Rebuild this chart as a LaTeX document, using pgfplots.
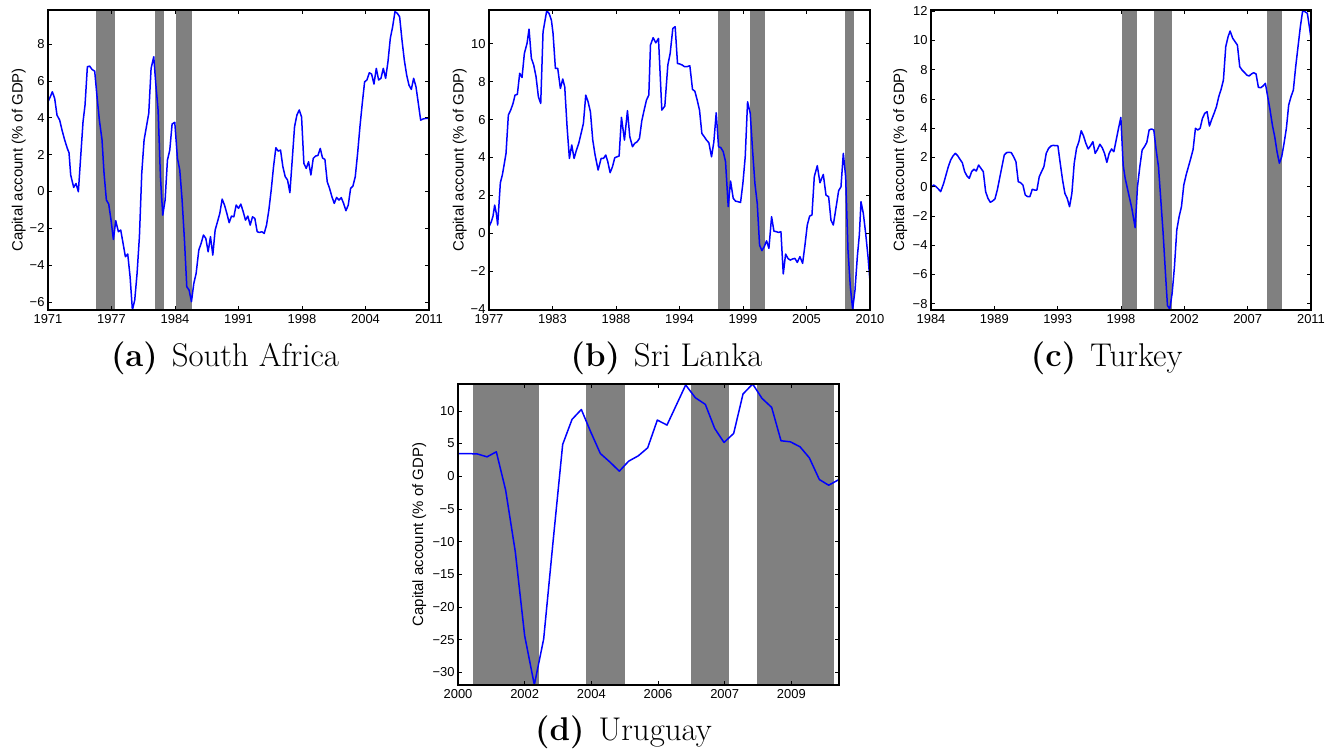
\documentclass[border=0pt]{standalone}
\usepackage{fontspec}
\usepackage{pgfplots}
\pgfplotsset{compat=1.18}
\newfontfamily\arial{Liberation Sans}
\definecolor{shade}{RGB}{128,128,128}
\pgfplotsset{
  myax/.style={
    scale only axis, width=381bp, height=300bp,
    axis on top,
    axis line style={line width=1.1bp},
    tick style={black, line width=0.6bp},
    major tick length=4bp,
    tick align=inside,
    ticklabel style={font=\arial\fontsize{13}{16}\selectfont},
    xticklabel style={yshift=-1bp},
    ylabel={Capital account (\% of GDP)},
    label style={font=\arial\fontsize{15}{18}\selectfont},
    ylabel style={anchor=center, at={(axis description cs:-0.077,0.5)}},
    every axis plot/.append style={line join=round},
  },
  sh/.style={fill=shade, draw=none, forget plot},
  ln/.style={blue, line width=1.5bp},
}
\begin{document}
\begin{tikzpicture}
\path[use as bounding box] (0,0) rectangle (1343bp,750bp);
% ---------------- (a) South Africa
\begin{axis}[myax, at={(48bp,440bp)}, anchor=south west,
  xmin=145, xmax=1287, ymin=-6.44, ymax=9.85,
  xtick={145,335.3,525.7,716,906.3,1096.7,1287},
  xticklabels={1971,1977,1984,1991,1998,2004,2011},
  ytick={-6,-4,-2,0,2,4,6,8},
  yticklabels={−6,−4,−2,0,2,4,6,8}]
\addplot[sh] coordinates {(288,-10) (347,-10) (347,20) (288,20)};
\addplot[sh] coordinates {(465,-10) (494,-10) (494,20) (465,20)};
\addplot[sh] coordinates {(528,-10) (578,-10) (578,20) (528,20)};
\addplot[ln] coordinates {
(145,4.87)(152,5.14)(158,5.41)(165,5.05)(172,4.14)(180,3.87)(187,3.33)(195,2.79)(203,2.33)(208,2.1)
(213,0.89)(222,0.22)(229,0.43)(236,-0.02)(243,1.88)(250,3.78)(256,4.69)(263,6.77)(270,6.8)(277,6.62)
(285,6.53)(292,5.14)(299,3.87)(307,2.79)(313,0.98)(320,-0.47)(327,-0.69)(334,-1.56)(341,-2.61)(348,-1.59)
(356,-2.19)(363,-2.1)(370,-2.82)(377,-3.55)(384,-3.4)(391,-4.63)(398,-6.44)(405,-5.9)(412,-4.45)(419,-2.46)
(426,0.98)(433,2.79)(440,3.51)(447,4.24)(454,6.68)(462,7.31)(468,5.86)(475,4.42)(482,0.8)(489,-1.29)
(496,-0.47)(503,1.7)(510,2.24)(517,3.66)(525,3.75)(533,1.79)(540,1.16)(547,-0.47)(554,-2.64)(561,-5.18)
(568,-5.36)(575,-5.99)(582,-5.0)(589,-4.45)(597,-3.19)(604,-2.82)(611,-2.37)(618,-2.55)(625,-3.28)(632,-2.46)
(639,-3.46)(646,-2.1)(653,-1.65)(660,-1.19)(667,-0.42)(674,-0.74)(681,-1.19)(688,-1.7)(695,-1.34)(702,-1.38)
(709,-0.74)(716,-0.92)(723,-0.69)(730,-1.1)(737,-1.56)(744,-1.34)(751,-1.83)(758,-1.38)(765,-1.47)(772,-2.19)
(779,-2.23)(786,-2.19)(793,-2.28)(800,-1.83)(807,-1.01)(814,0.07)(821,1.34)(828,2.37)(835,2.19)(842,2.24)
(849,1.34)(856,0.8)(863,0.62)(870,-0.07)(877,1.7)(884,3.51)(891,4.14)(898,4.42)(905,4.05)(912,1.52)
(919,1.25)(926,1.61)(933,0.89)(940,1.79)(947,1.92)(954,1.95)(961,2.33)(968,1.81)(975,1.74)(982,0.52)
(989,0.16)(996,-0.29)(1003,-0.65)(1010,-0.33)(1017,-0.47)(1024,-0.34)(1031,-0.65)(1038,-1.05)(1045,-0.74)(1052,0.16)
(1059,0.29)(1066,0.8)(1073,2.06)(1080,3.51)(1087,4.78)(1094,5.95)(1101,6.05)(1108,6.44)(1115,6.37)(1122,5.83)
(1129,6.68)(1136,6.05)(1143,6.14)(1150,6.68)(1157,6.14)(1164,7.04)(1171,8.31)(1178,8.94)(1185,9.76)(1192,9.67)
(1199,9.48)(1206,8.22)(1213,7.13)(1220,6.32)(1227,5.77)(1234,5.54)(1241,6.14)(1248,5.68)(1255,4.78)(1262,3.87)
(1269,3.93)(1276,3.96)(1287,3.96)};
\end{axis}
% ---------------- (b) Sri Lanka
\begin{axis}[myax, at={(489bp,440bp)}, anchor=south west,
  xmin=148, xmax=1290, ymin=-4.04, ymax=11.78,
  xtick={148,338.3,528.7,719,909.3,1099.7,1290},
  xticklabels={1977,1983,1988,1994,1999,2005,2010},
  ytick={-4,-2,0,2,4,6,8,10},
  yticklabels={−4,−2,0,2,4,6,8,10}]
\addplot[sh] coordinates {(835,-10) (870,-10) (870,20) (835,20)};
\addplot[sh] coordinates {(930,-10) (975,-10) (975,20) (930,20)};
\addplot[sh] coordinates {(1215,-10) (1242,-10) (1242,20) (1215,20)};
\addplot[ln] coordinates {
(148,0.35)(155,0.62)(160,0.91)(165,1.49)(170,1.05)(174,0.44)(182,2.67)(188,3.08)(194,3.69)(199,4.22)
(206,6.24)(213,6.5)(220,6.85)(226,7.29)(233,7.33)(240,8.44)(247,8.22)(254,9.49)(262,10.02)(268,10.77)
(275,9.23)(282,8.88)(289,8.26)(296,7.21)(303,6.85)(310,10.63)(317,11.34)(321,11.74)(328,11.6)(335,11.25)
(340,10.54)(347,8.7)(354,8.7)(362,7.64)(369,8.14)(375,7.73)(382,5.62)(389,3.95)(396,4.66)(403,3.95)
(410,4.39)(417,4.75)(424,5.27)(431,5.8)(438,7.29)(445,6.94)(452,6.41)(459,4.92)(466,4.13)(475,3.34)
(484,3.95)(491,3.95)(498,4.13)(504,3.78)(511,3.2)(518,3.51)(525,3.99)(532,4.04)(538,4.08)(545,6.12)
(554,4.92)(563,6.47)(570,5.1)(578,4.57)(585,4.75)(592,4.83)(599,5.01)(606,5.94)(613,6.5)(620,7.03)
(627,7.29)(632,9.93)(640,10.32)(648,10.05)(656,10.28)(666,6.5)(675,6.71)(684,8.88)(691,9.49)(699,10.81)
(706,10.9)(713,8.96)(720,8.93)(727,8.88)(734,8.79)(741,8.79)(750,8.84)(758,7.59)(765,7.5)(772,7.03)
(779,6.5)(786,5.27)(793,5.1)(800,4.92)(807,4.78)(815,4.04)(822,4.83)(829,6.36)(836,4.57)(843,4.52)
(850,4.31)(857,3.78)(865,1.41)(872,2.76)(880,1.85)(887,1.7)(895,1.67)(902,1.63)(909,2.64)(916,4.04)
(923,6.94)(931,6.33)(938,4.39)(945,2.64)(952,1.58)(959,-0.62)(966,-0.91)(973,-0.7)(980,-0.39)(987,-0.79)
(995,0.88)(1002,0.12)(1009,0.09)(1016,0.05)(1023,0.09)(1030,-2.14)(1037,-1.09)(1044,-1.32)(1051,-1.41)(1058,-1.35)
(1065,-1.32)(1072,-1.53)(1080,-1.23)(1088,-1.58)(1095,-0.62)(1102,0.44)(1109,0.91)(1116,0.97)(1123,2.99)(1132,3.57)
(1140,2.67)(1150,3.11)(1158,2.02)(1166,1.93)(1173,0.7)(1180,0.44)(1187,1.23)(1196,2.25)(1203,2.46)(1210,4.22)
(1217,2.99)(1224,-0.88)(1231,-2.81)(1238,-4.0)(1245,-2.99)(1252,-1.23)(1258,-0.09)(1263,1.67)(1270,1.05)(1277,0)
(1284,-1.23)(1290,-2.55)};
\end{axis}
% ---------------- (c) Turkey
\begin{axis}[myax, width=380bp, at={(931bp,440bp)}, anchor=south west,
  xmin=152, xmax=1293, ymin=-8.44, ymax=12.09,
  xtick={152,342.2,532.3,722.5,912.7,1102.8,1293},
  xticklabels={1984,1989,1993,1998,2002,2007,2011},
  ytick={-8,-6,-4,-2,0,2,4,6,8,10,12},
  yticklabels={−8,−6,−4,−2,0,2,4,6,8,10,12},
  ylabel style={at={(axis description cs:-0.081,0.5)}}]
\addplot[sh] coordinates {(725,-10) (770,-10) (770,20) (725,20)};
\addplot[sh] coordinates {(822,-10) (875,-10) (875,20) (822,20)};
\addplot[sh] coordinates {(1162,-10) (1205,-10) (1205,20) (1162,20)};
\addplot[ln] coordinates {
(152,-0.05)(160,0.11)(167,0)(174,-0.16)(181,-0.34)(190,0.23)(197,0.8)(204,1.37)(211,1.82)(218,2.1)
(225,2.28)(232,2.12)(239,1.87)(246,1.64)(253,1.03)(260,0.73)(267,0.57)(274,1.03)(281,1.19)(288,1.07)
(295,1.48)(302,1.25)(309,1.03)(316,-0.34)(323,-0.8)(330,-1.07)(337,-0.98)(344,-0.84)(351,-0.23)(358,0.57)
(365,1.37)(372,2.17)(379,2.33)(386,2.35)(393,2.33)(400,2.05)(407,1.71)(414,0.34)(421,0.27)(428,0.11)
(435,-0.57)(442,-0.68)(449,-0.68)(456,-0.18)(463,-0.23)(470,-0.23)(477,0.68)(484,1.03)(491,1.37)(498,2.28)
(505,2.62)(512,2.78)(519,2.83)(526,2.8)(533,2.8)(540,1.6)(547,0.46)(554,-0.46)(561,-0.8)(568,-1.37)
(575,-0.46)(582,1.6)(589,2.62)(596,3.08)(603,3.83)(610,3.47)(617,2.96)(624,2.58)(631,2.8)(638,3.08)
(645,2.28)(652,2.55)(659,2.9)(666,2.67)(673,2.28)(680,1.66)(687,2.28)(694,2.58)(701,2.39)(708,3.19)
(715,3.99)(722,4.74)(729,1.48)(735,0.57)(745,-0.46)(755,-1.48)(765,-2.81)(772,0)(779,1.37)(786,2.51)
(793,2.74)(800,3.03)(807,3.88)(814,3.95)(821,3.88)(828,2.51)(835,1.37)(842,-0.91)(849,-3.19)(856,-5.93)
(862,-8.14)(869,-8.37)(876,-7.3)(883,-5.47)(890,-2.96)(897,-2.05)(904,-1.37)(911,0.11)(918,0.8)(925,1.37)
(932,1.94)(939,2.55)(946,3.99)(953,3.88)(960,3.99)(967,4.67)(974,5.02)(981,5.13)(988,4.15)(995,4.61)
(1002,5.02)(1009,5.47)(1016,6.16)(1023,6.66)(1030,7.3)(1037,9.58)(1044,10.26)(1050,10.65)(1058,10.15)(1065,9.92)
(1072,9.69)(1079,8.21)(1086,7.98)(1093,7.82)(1100,7.64)(1107,7.57)(1114,7.71)(1121,7.8)(1128,7.71)(1135,6.8)
(1142,6.77)(1149,6.89)(1156,7.07)(1163,6.16)(1170,5.25)(1177,4.22)(1184,3.42)(1191,2.39)(1198,1.6)(1205,2.05)
(1212,2.96)(1219,3.99)(1226,5.59)(1233,6.16)(1240,6.61)(1247,8.21)(1254,9.58)(1261,10.95)(1268,12.04)(1275,11.97)
(1282,11.86)(1288,10.95)(1293,10.15)};
\end{axis}
% ---------------- (d) Uruguay
\begin{axis}[myax, height=301bp, at={(458bp,65bp)}, anchor=south west,
  xmin=173, xmax=1316, ymin=-31.93, ymax=14.1,
  xtick={173,373,573,773,973,1173},
  xticklabels={2000,2002,2004,2006,2007,2009},
  ytick={-30,-25,-20,-15,-10,-5,0,5,10},
  yticklabels={−30,−25,−20,−15,−10,−5,0,5,10},
  ylabel style={at={(axis description cs:-0.102,0.5)}}]
\addplot[sh] coordinates {(217,-40) (417,-40) (417,20) (217,20)};
\addplot[sh] coordinates {(558,-40) (675,-40) (675,20) (558,20)};
\addplot[sh] coordinates {(873,-40) (987,-40) (987,20) (873,20)};
\addplot[sh] coordinates {(1071,-40) (1302,-40) (1302,20) (1071,20)};
\addplot[ln] coordinates {
(173,3.47)(230,3.42)(260,2.96)(288,3.73)(316,-2.15)(345,-11.6)(373,-24.4)(402,-31.9)(430,-24.9)(458,-10.1)
(487,4.85)(515,8.68)(543,10.2)(571,6.79)(600,3.47)(628,2.2)(657,0.77)(685,2.3)(714,3.12)(742,4.34)
(771,8.58)(800,7.82)(828,10.88)(856,13.95)(885,12.0)(915,10.98)(943,7.31)(971,5.16)(1000,6.54)(1028,12.57)
(1057,14.1)(1085,11.9)(1114,10.52)(1142,5.42)(1170,5.26)(1199,4.5)(1227,2.81)(1257,-0.51)(1285,-1.38)(1316,-0.51)};
\end{axis}
% ---------------- captions
\node[anchor=base] at (225bp,383bp) {\fontsize{33}{40}\selectfont\textbf{(a)}\hspace{14bp}South Africa};
\node[anchor=base] at (666.5bp,383bp) {\fontsize{33}{40}\selectfont\textbf{(b)}\hspace{14bp}Sri Lanka};
\node[anchor=base] at (1106.7bp,383bp) {\fontsize{33}{40}\selectfont\textbf{(c)}\hspace{14bp}Turkey};
\node[anchor=base] at (623.5bp,10bp) {\fontsize{33}{40}\selectfont\textbf{(d)}\hspace{14bp}Uruguay};
\end{tikzpicture}
\end{document}
